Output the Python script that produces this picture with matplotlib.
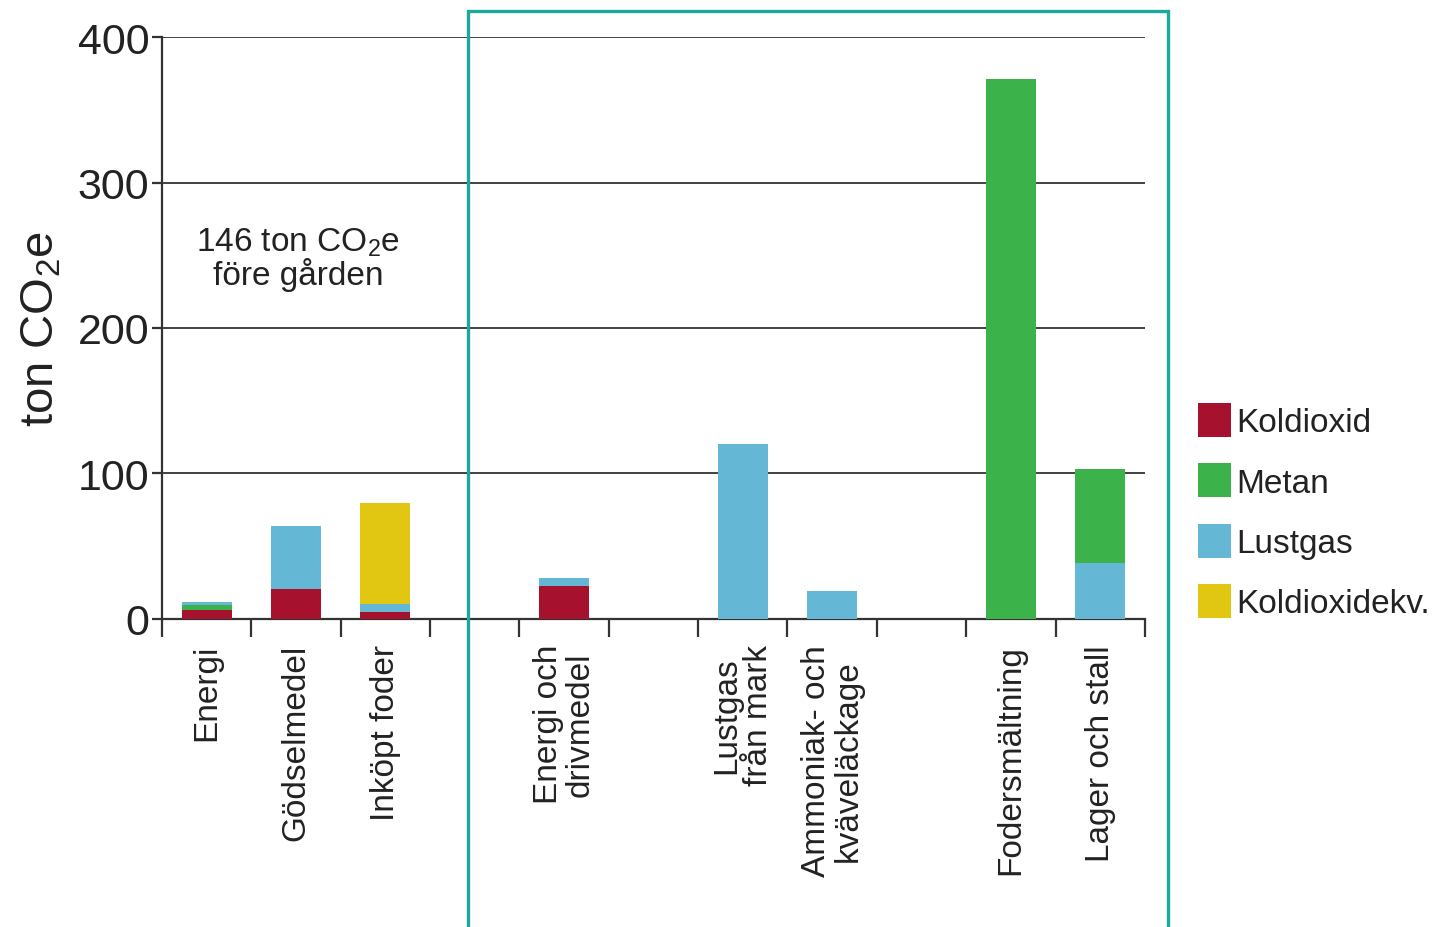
import matplotlib
matplotlib.use("Agg")
import matplotlib.pyplot as plt
import numpy as np
from matplotlib.patches import Patch, Rectangle

plt.rcParams["font.family"] = ["Liberation Sans", "DejaVu Sans"]
plt.rcParams["mathtext.fontset"] = "custom"
plt.rcParams["mathtext.rm"] = "Liberation Sans"

# 11 platser på x-axeln, tomma strängar = tomma platser
categories = ["Energi", "Gödselmedel", "Inköpt foder", "",
              "Energi och\ndrivmedel", "", "Lustgas\nfrån mark",
              "Ammoniak- och\nkväveläckage", "", "Fodersmältning",
              "Lager och stall"]

gases = ["Koldioxid", "Metan", "Lustgas", "Koldioxidekv."]
koldioxid = [6, 20.5, 4.5, 0, 22.5, 0, 0, 0, 0, 0, 0]
metan = [3.5, 0, 0, 0, 0, 0, 0, 0, 0, 371, 64.5]
lustgas = [2, 43.5, 5.5, 0, 5.5, 0, 120, 19, 0, 0, 38.5]
koldioxidekv = [0, 0, 70, 0, 0, 0, 0, 0, 0, 0, 0]

colors = {"Koldioxid": "#a6122d", "Metan": "#3bb34a",
          "Lustgas": "#64b8d5", "Koldioxidekv.": "#e1c712"}

values = {"Koldioxid": koldioxid, "Metan": metan,
          "Lustgas": lustgas, "Koldioxidekv.": koldioxidekv}

# Lager och stall har lustgas underst
default_order = ["Koldioxid", "Metan", "Lustgas", "Koldioxidekv."]
order_override = {"Lager och stall": ["Lustgas", "Metan", "Koldioxid", "Koldioxidekv."]}

yticks = [0, 100, 200, 300, 400]
co2e = "CO$_{\\mathrm{2}}$e"
note = f"146 ton {co2e}\nföre gården"

fig = plt.figure(figsize=(14.33, 9.28), dpi=100)
ax = fig.add_axes([0.113, 0.332, 0.686, 0.627])

x = np.arange(len(categories))
for i, cat in enumerate(categories):
    bottom = 0
    for g in order_override.get(cat, default_order):
        v = values[g][i]
        if v > 0:
            ax.bar(x[i], v, width=0.56, bottom=bottom, color=colors[g],
                   zorder=3)
            bottom += v

ax.set_xlim(-0.5, len(categories) - 0.5)
ax.set_ylim(0, 400)
ax.set_yticks(yticks)
ax.set_yticklabels([str(t) for t in yticks], fontsize=31, color="#222222")
ax.yaxis.grid(True, color="#222222", linewidth=1.2, zorder=1)
ax.set_axisbelow(True)

# grupp-gränser som ticks, etiketter på minor ticks
ax.set_xticks(np.arange(-0.5, len(categories)), labels=[])
ax.set_xticks(x, labels=categories, minor=True, rotation=90, fontsize=24,
              color="#222222")
ax.tick_params(axis="x", which="major", length=13, width=1.6,
               color="#333333", direction="out")
ax.tick_params(axis="x", which="minor", length=0, pad=18)
ax.tick_params(axis="y", length=7, width=1.6, color="#333333", pad=2)
for lab in ax.get_xticklabels(minor=True):
    lab.set_verticalalignment("top")
    lab.set_linespacing(1.02)

for s in ["top", "right"]:
    ax.spines[s].set_visible(False)
for s in ["left", "bottom"]:
    ax.spines[s].set_color("#333333")
    ax.spines[s].set_linewidth(1.6)
ax.spines["left"].set_bounds(0, 400)

ax.set_ylabel(f"ton {co2e}", fontsize=34, color="#222222", labelpad=10)

ax.text(1.02, 248, note, ha="center", va="center", fontsize=24,
        color="#222222", linespacing=0.95)

# turkos ram runt gårdens del
fig.add_artist(Rectangle((468 / 1433, -0.02), (1168 - 468) / 1433,
                         1.02 - 12 / 928, transform=fig.transFigure,
                         fill=False, edgecolor="#19aa9a", linewidth=2.4))

handles = [Patch(facecolor=colors[g], edgecolor="none") for g in gases]
fig.legend(handles, gases, loc="upper left",
           bbox_to_anchor=(1198 / 1433, 1 - 404 / 928), frameon=False,
           fontsize=24, handlelength=1.0, handleheight=1.2,
           handletextpad=0.15, labelspacing=0.75, borderpad=0,
           borderaxespad=0, labelcolor="#222222")

fig.savefig("out.png", dpi=100)
